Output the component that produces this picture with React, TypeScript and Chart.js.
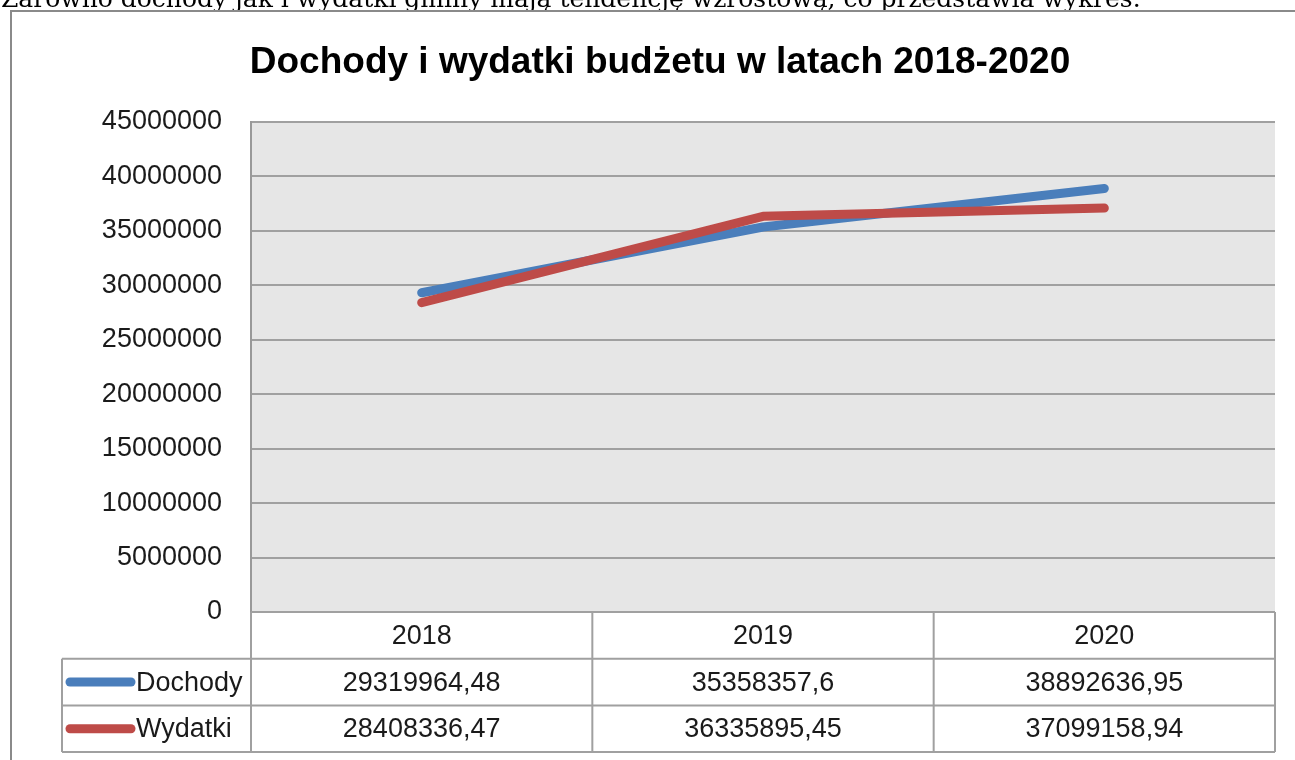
import React, { useEffect, useRef } from "react";
import { Chart, registerables } from "chart.js";

Chart.register(...registerables);

const introText = "Zarówno dochody jak i wydatki gminy mają tendencję wzrostową, co przedstawia wykres.";
const chartTitle = "Dochody i wydatki budżetu w latach 2018-2020";
const categories = ["2018", "2019", "2020"];
const seriesNames = ["Dochody", "Wydatki"];
const dochody = [29319964.48, 35358357.6, 38892636.95];
const wydatki = [28408336.47, 36335895.45, 37099158.94];
const seriesColors = ["#4A7EBB", "#BE4B48"];
const yMin = 0;
const yMax = 45000000;
const yStep = 5000000;

const fmt = (v: number) => String(v).replace(".", ",");

const framePlugin = {
  id: "frame",
  beforeDraw(chart: any) {
    const { ctx, chartArea: a, width, height } = chart;
    ctx.save();
    ctx.fillStyle = "#ffffff";
    ctx.fillRect(0, 0, width, height);
    // intro text (cut off at the top)
    ctx.fillStyle = "#000000";
    ctx.font = '25px "DejaVu Serif"';
    ctx.textAlign = "left";
    ctx.textBaseline = "alphabetic";
    ctx.fillText(introText, 1, 7);
    // chart frame
    ctx.strokeStyle = "#8a8a8a";
    ctx.lineWidth = 2;
    ctx.strokeRect(11, 11, width + 30, height + 30);
    // title
    ctx.fillStyle = "#000000";
    ctx.font = 'bold 37px "Liberation Sans"';
    ctx.textAlign = "center";
    ctx.fillText(chartTitle, 660, 73);
    // plot area background
    ctx.fillStyle = "#e6e6e6";
    ctx.fillRect(a.left, a.top, a.right - a.left, a.bottom - a.top);
    ctx.restore();
  },
  afterDraw(chart: any) {
    const { ctx, chartArea: a } = chart;
    const n = categories.length;
    const colW = (a.right - a.left) / n;
    const rowH = 46.7;
    const tableLeft = 62;
    const y0 = a.bottom;
    const rows = [dochody, wydatki];
    ctx.save();
    ctx.strokeStyle = "#a0a0a0";
    ctx.lineWidth = 2;
    ctx.beginPath();
    ctx.moveTo(a.left, y0);
    ctx.lineTo(a.right, y0);
    for (let r = 1; r <= rows.length + 1; r++) {
      const y = y0 + r * rowH;
      ctx.moveTo(tableLeft, y);
      ctx.lineTo(a.right, y);
    }
    for (let i = 0; i <= n; i++) {
      const x = a.left + i * colW;
      ctx.moveTo(x, y0);
      ctx.lineTo(x, y0 + (rows.length + 1) * rowH);
    }
    ctx.moveTo(tableLeft, y0 + rowH);
    ctx.lineTo(tableLeft, y0 + (rows.length + 1) * rowH);
    ctx.stroke();

    ctx.fillStyle = "#1a1a1a";
    ctx.font = '27px "Liberation Sans"';
    ctx.textBaseline = "middle";
    ctx.textAlign = "center";
    const xs = chart.scales.x;
    categories.forEach((c, i) => {
      ctx.fillText(c, xs.getPixelForValue(i), y0 + rowH / 2 + 1);
    });
    rows.forEach((vals, r) => {
      const yc = y0 + (r + 1) * rowH + rowH / 2 + 1;
      ctx.textAlign = "center";
      ctx.fillStyle = "#1a1a1a";
      vals.forEach((v, i) => {
        ctx.fillText(fmt(v), xs.getPixelForValue(i), yc);
      });
      ctx.strokeStyle = seriesColors[r];
      ctx.lineWidth = 9;
      ctx.lineCap = "round";
      ctx.beginPath();
      ctx.moveTo(70, yc - 1);
      ctx.lineTo(131, yc - 1);
      ctx.stroke();
      ctx.textAlign = "left";
      ctx.fillText(seriesNames[r], 136, yc);
    });
    ctx.restore();
  },
};

export default function App() {
  const ref = useRef<HTMLCanvasElement | null>(null);
  useEffect(() => {
    if (!ref.current) return;
    const chart = new Chart(ref.current, {
      type: "line",
      data: {
        labels: categories,
        datasets: [
          {
            label: seriesNames[0],
            data: dochody,
            borderColor: seriesColors[0],
            backgroundColor: seriesColors[0],
            borderWidth: 9,
            pointRadius: 0,
            tension: 0,
            borderCapStyle: "round",
            borderJoinStyle: "round",
            order: 1,
          },
          {
            label: seriesNames[1],
            data: wydatki,
            borderColor: seriesColors[1],
            backgroundColor: seriesColors[1],
            borderWidth: 9,
            pointRadius: 0,
            tension: 0,
            borderCapStyle: "round",
            borderJoinStyle: "round",
            order: 0,
          },
        ],
      },
      options: {
        responsive: false,
        animation: false,
        devicePixelRatio: 1,
        layout: { padding: { top: 122, right: 20, bottom: 148, left: 0 } },
        plugins: {
          legend: { display: false },
          title: { display: false },
          tooltip: { enabled: false },
        },
        scales: {
          x: {
            type: "category",
            offset: true,
            grid: { display: false, drawTicks: false },
            border: { display: false },
            ticks: { display: false },
            afterFit: (s: any) => {
              s.height = 0;
            },
          },
          y: {
            min: yMin,
            max: yMax,
            grid: { color: "#a0a0a0", lineWidth: 2, drawTicks: false },
            border: { display: true, color: "#999999", width: 2 },
            ticks: {
              stepSize: yStep,
              padding: 29,
              color: "#1a1a1a",
              font: { family: "Liberation Sans", size: 27 },
              callback: (v: any) => String(v),
            },
            afterFit: (s: any) => {
              s.width = 251;
            },
          },
        },
      },
      plugins: [framePlugin],
    });
    return () => chart.destroy();
  }, []);
  return (
    <div style={{ position: "absolute", left: 0, top: 0, width: 1295, height: 760 }}>
      <canvas ref={ref} width={1295} height={760} style={{ display: "block" }} />
    </div>
  );
}
